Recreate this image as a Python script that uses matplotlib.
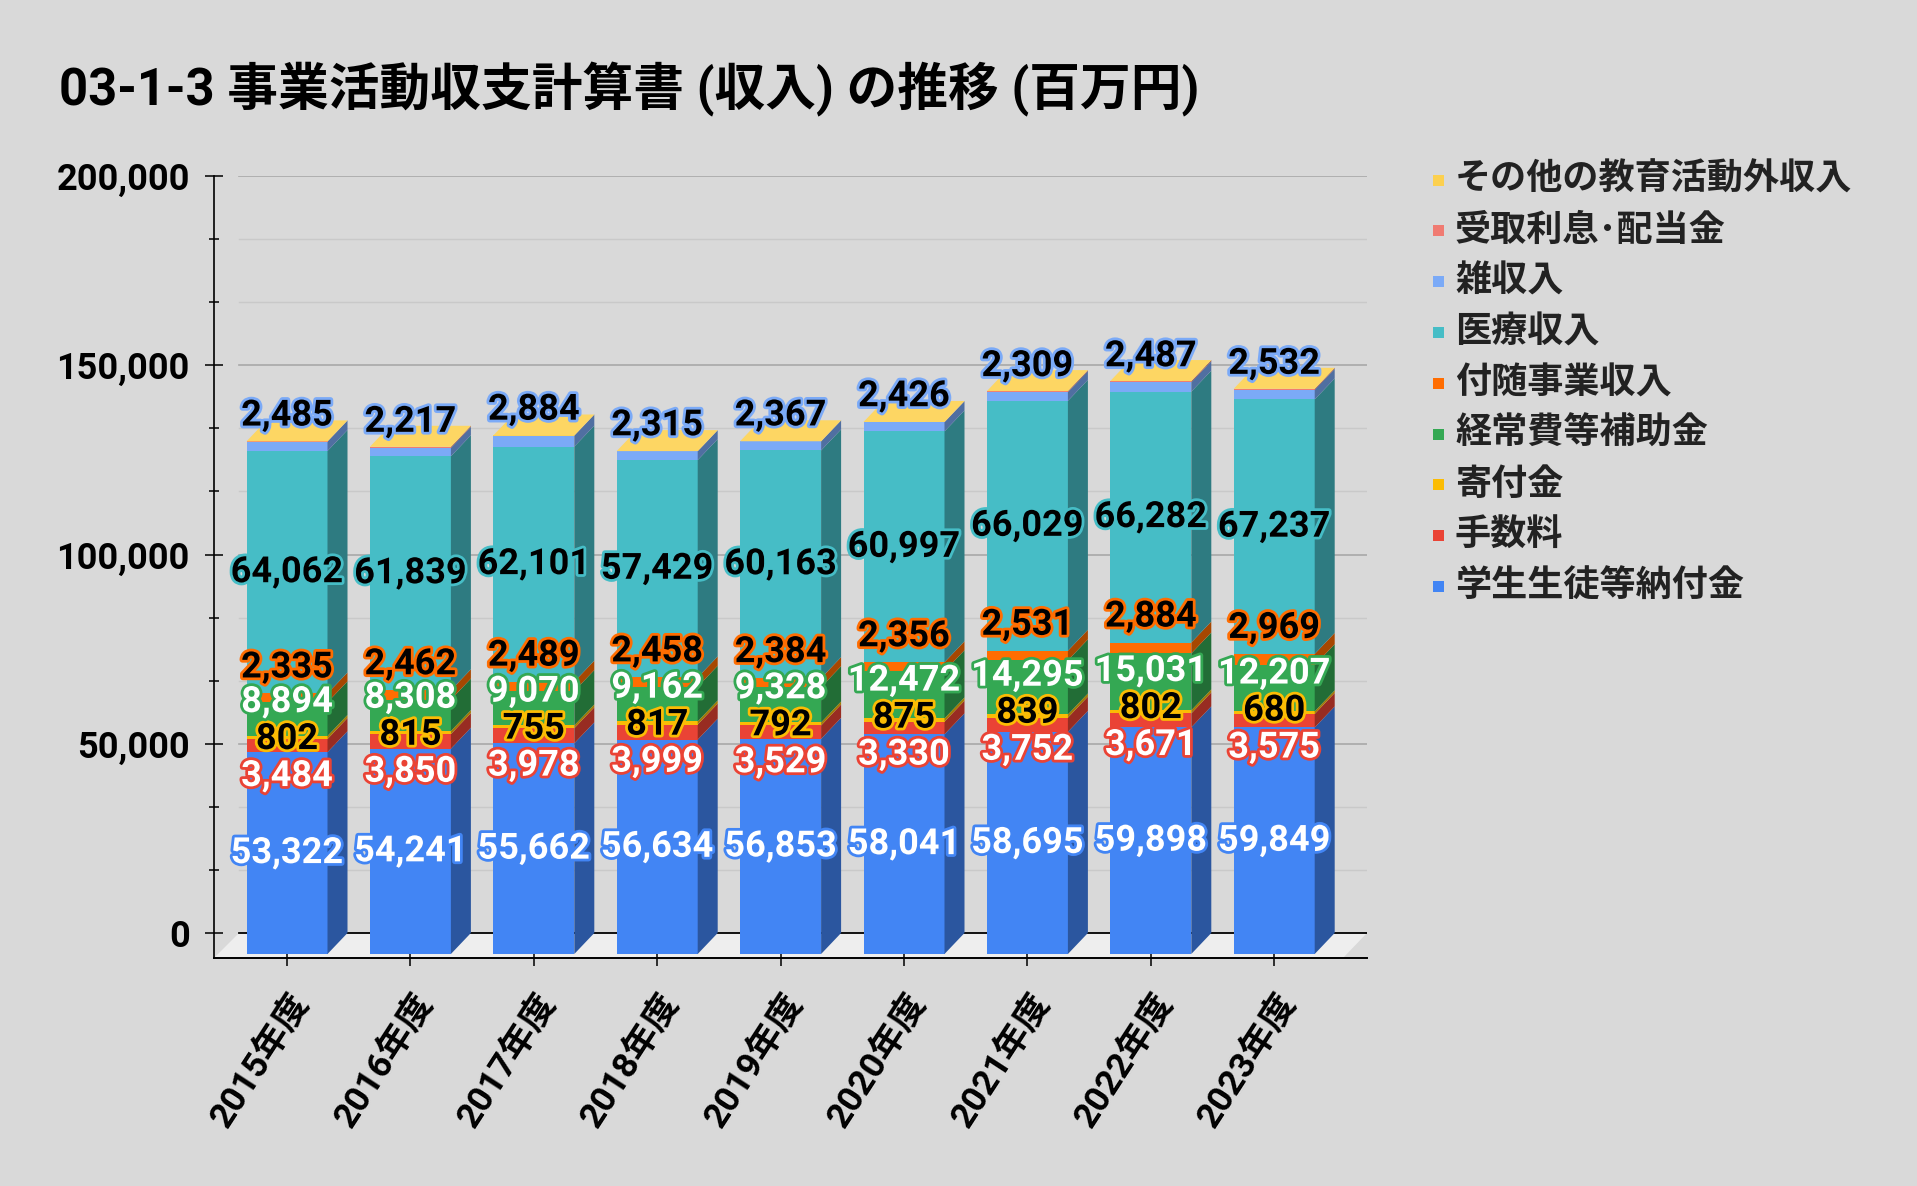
import matplotlib
matplotlib.use("Agg")  # headless
import matplotlib.pyplot as plt
import matplotlib.patheffects as pe
from matplotlib.colors import to_rgb
from matplotlib.patches import Polygon, Rectangle
from matplotlib.transforms import ScaledTranslation

plt.rcParams['font.family'] = ['Roboto', 'Noto Sans CJK JP', 'DejaVu Sans']

# ---- data (百万円) ----
years = ["2015年度", "2016年度", "2017年度", "2018年度", "2019年度",
         "2020年度", "2021年度", "2022年度", "2023年度"]
series_names = ["学生生徒等納付金", "手数料", "寄付金", "経常費等補助金", "付随事業収入",
                "医療収入", "雑収入", "受取利息･配当金", "その他の教育活動外収入"]
tuition = [53322, 54241, 55662, 56634, 56853, 58041, 58695, 59898, 59849]
fees = [3484, 3850, 3978, 3999, 3529, 3330, 3752, 3671, 3575]
donations = [802, 815, 755, 817, 792, 875, 839, 802, 680]
subsidies = [8894, 8308, 9070, 9162, 9328, 12472, 14295, 15031, 12207]
auxiliary = [2335, 2462, 2489, 2458, 2384, 2356, 2531, 2884, 2969]
medical = [64062, 61839, 62101, 57429, 60163, 60997, 66029, 66282, 67237]
misc = [2485, 2217, 2884, 2315, 2367, 2426, 2309, 2487, 2532]
# no labels on these two in the source, values estimated from the thin bands
interest = [30, 250, 30, 30, 30, 40, 250, 300, 250]
other = [20, 20, 20, 20, 20, 20, 20, 20, 20]

series = [tuition, fees, donations, subsidies, auxiliary, medical, misc, interest, other]
colors = ["#4285f4", "#ea4335", "#fbbc04", "#34a853", "#ff6d01",
          "#46bdc6", "#7baaf7", "#f07b72", "#fcd04f"]
label_text_colors = ["white", "white", "black", "white", "black", "black", "black"]
label_above = [False, False, False, False, True, False, True]   # label sits over the segment
n_labeled = 7

# ---- geometry (figure pixels at dpi 100) ----
W, H = 1917, 1186
AX_L, AX_R, AX_T, AX_B = 214, 1367, 176, 958
ZERO_PX = 954                 # front face zero
VPP = 50000 / 189.25          # value per pixel
CAT_PX, X0_PX = 123.4, 287    # category spacing, first bar centre
BAR_W = 81 / CAT_PX
BAR_DX, BAR_DY = 20 / CAT_PX, 21 * VPP
WALL_DX, WALL_DY = 25 / CAT_PX, 21 * VPP

ylo, yhi = -(AX_B - ZERO_PX) * VPP, (ZERO_PX - AX_T) * VPP
xlo, xhi = (AX_L - X0_PX) / CAT_PX, (AX_R - X0_PX) / CAT_PX

bg = "#d9d9d9"
fig = plt.figure(figsize=(W / 100, H / 100), dpi=100, facecolor=bg)
ax = fig.add_axes([AX_L / W, 1 - AX_B / H, (AX_R - AX_L) / W, (AX_B - AX_T) / H])
ax.set_facecolor("none")
ax.set_xlim(xlo, xhi)
ax.set_ylim(ylo, yhi)

# floor
xfr = (1343 - X0_PX) / CAT_PX
ax.add_patch(Polygon([(xlo, ylo), (xlo + WALL_DX, WALL_DY), (xhi, WALL_DY), (xfr, ylo)],
                     closed=True, facecolor="#eeeeee", edgecolor="none", zorder=0.5,
                     clip_on=False))

# back-wall gridlines
major = [0, 50000, 100000, 150000, 200000]
minor = [v * 50000 / 3 for v in range(13) if v % 3]
gx0 = WALL_DX / (xhi - xlo)
for v in minor:
    ax.axhline(v + WALL_DY, xmin=gx0, xmax=1, color="#c9c9c9", lw=1, zorder=1)
for v in major:
    ax.axhline(v + WALL_DY, xmin=gx0, xmax=1, color="black" if v == 0 else "#a8a8a8",
               lw=1.3 if v == 0 else 1.2, zorder=1.2)

# axes / ticks
for s in ("top", "right"):
    ax.spines[s].set_visible(False)
ax.spines["left"].set_bounds(ylo, 200000 + WALL_DY)
ax.spines["left"].set_linewidth(1.2)
ax.spines["bottom"].set_linewidth(1.4)
ax.set_yticks([v + WALL_DY for v in major])
ax.set_yticklabels([f"{v:,}" for v in major], fontsize=26, fontweight="bold")
ax.set_yticks([v + WALL_DY for v in minor], minor=True)
ax.tick_params(axis="y", which="major", direction="inout", length=13, width=1.1, pad=11)
ax.tick_params(axis="y", which="minor", direction="inout", length=7, width=1.1)

x = list(range(len(years)))
ax.set_xticks(x)
ax.set_xticklabels(years, fontsize=25.5, fontweight="bold", rotation=57,
                   ha="right", va="center", rotation_mode="anchor")
ax.tick_params(axis="x", direction="inout", length=11, width=1.1, pad=22)
shift = ScaledTranslation(15 / 100, 0, fig.dpi_scale_trans)
for lab in ax.get_xticklabels():
    lab.set_transform(lab.get_transform() + shift)


def shade(c, f=0.65):
    r, g, b = to_rgb(c)
    return (r * f, g * f, b * f)


# ---- 3D-looking stacked columns ----
bottoms = [0.0] * len(years)
for vals, col in zip(series, colors):
    ax.bar(x, vals, bottom=bottoms, width=BAR_W, color=col, linewidth=0, zorder=3)
    for i, (b, v) in enumerate(zip(bottoms, vals)):
        xr = i + BAR_W / 2
        ax.add_patch(Polygon([(xr, b), (xr + BAR_DX, b + BAR_DY),
                              (xr + BAR_DX, b + v + BAR_DY), (xr, b + v)],
                             closed=True, facecolor=shade(col), edgecolor="none", zorder=3))
    bottoms = [b + v for b, v in zip(bottoms, vals)]

for i, t in enumerate(bottoms):
    xl = i - BAR_W / 2
    ax.add_patch(Polygon([(xl, t), (xl + BAR_W, t), (xl + BAR_W + BAR_DX, t + BAR_DY),
                          (xl + BAR_DX, t + BAR_DY)],
                         closed=True, facecolor="#fdd663", edgecolor="none", zorder=3))


def spread(wants, sep):
    # 1D de-overlap: merge neighbouring labels into clusters centred on their mean
    clusters = [[k] for k in range(len(wants))]
    while True:
        pos = {}
        for c in clusters:
            m = sum(wants[k] for k in c) / len(c)
            for j, k in enumerate(c):
                pos[k] = m + (j - (len(c) - 1) / 2) * sep
        for a in range(len(clusters) - 1):
            if pos[clusters[a][-1]] + sep > pos[clusters[a + 1][0]]:
                clusters[a] = clusters[a] + clusters.pop(a + 1)
                break
        else:
            return [pos[k] for k in range(len(wants))]


# ---- data labels ----
SEP = 37 * VPP
ABOVE = 26 * VPP
SMALL_SHIFT = -5 * VPP     # labels of thin segments sit a little low
for i in range(len(years)):
    cum = 0.0
    ys = [0.0] * n_labeled
    inside, wants = [], []
    for s in range(n_labeled):
        v = series[s][i]
        if label_above[s]:
            ys[s] = cum + v + ABOVE
        else:
            inside.append(s)
            wants.append(cum + v / 2 + (SMALL_SHIFT if v < SEP else 0))
        cum += v
    for s, y in zip(inside, spread(wants, SEP)):
        ys[s] = y
    for s in range(n_labeled):
        ax.text(i, ys[s], f"{series[s][i]:,}", ha="center", va="center",
                fontsize=26, fontweight="bold", color=label_text_colors[s], zorder=6,
                path_effects=[pe.Stroke(linewidth=4, foreground=colors[s]), pe.Normal()])

# ---- legend ----
for j, s in enumerate(reversed(range(len(series_names)))):
    yc = 180 + 50.8 * j
    fig.add_artist(Rectangle(((1438 - 5.5) / W, 1 - (yc + 5.5) / H), 11 / W, 11 / H,
                             transform=fig.transFigure, facecolor=colors[s],
                             edgecolor="none"))
    fig.text(1455 / W, 1 - yc / H, series_names[s], fontsize=26, fontweight="bold",
             color="#222222", va="center", ha="left")

# spaces around the half-width brackets stand in for the wider full-width ones
fig.text(59 / W, 1 - 89 / H, "03-1-3 事業活動収支計算書 (収入) の推移 (百万円)",
         fontsize=36.5, fontweight="bold", va="center", ha="left", color="black")

fig.savefig("out.png", dpi=100, facecolor=bg)
